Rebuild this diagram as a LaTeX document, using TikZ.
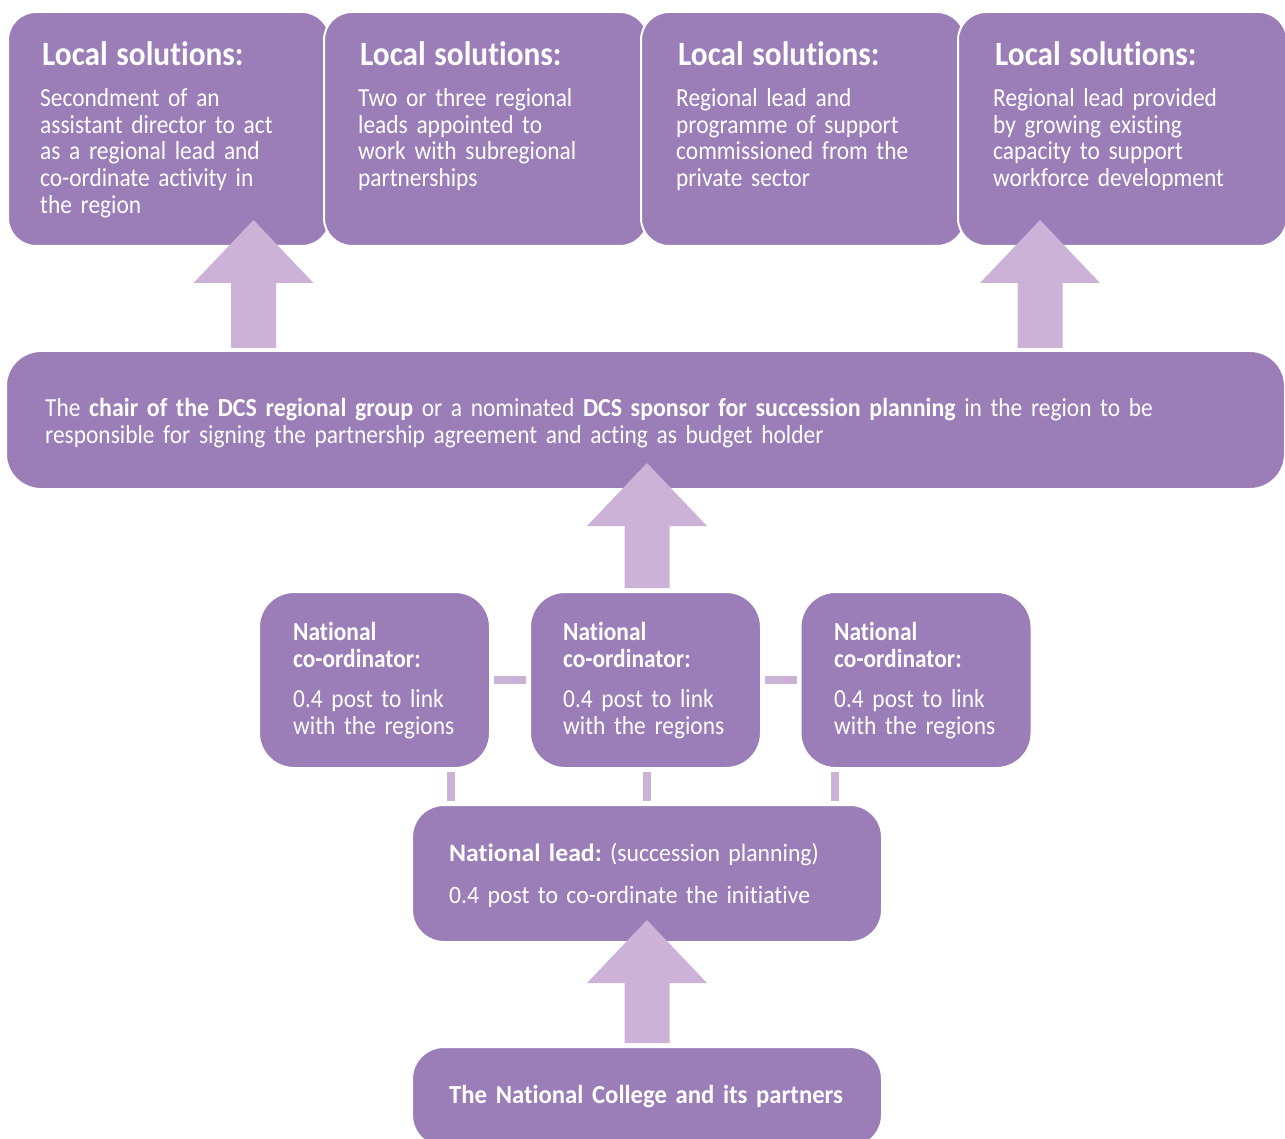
\documentclass[tikz,border=0pt]{standalone}
\usepackage{fontspec}
\setmainfont{Carlito}[Ligatures=NoCommon]
\newfontfamily\condf[FakeStretch=0.90,Ligatures=NoCommon,WordSpace=0.85]{Carlito}
\newfontfamily\titlef[FakeStretch=0.92,Ligatures=NoCommon]{Carlito}
\newfontfamily\normf[FakeStretch=0.95,Ligatures=NoCommon]{Carlito}
\newfontfamily\wboldf[FakeStretch=1.03,Ligatures=NoCommon]{Carlito}
\usetikzlibrary{calc}
\definecolor{boxc}{RGB}{155,125,184}
\definecolor{arrc}{RGB}{204,178,214}
\tikzset{
  box/.style={fill=boxc, draw=white, line width=2pt, inner sep=0pt},
  txt/.style={text=white, align=left, inner sep=0pt, anchor=north west, text width=#1,
              font=\condf\fontsize{26}{26.7}\selectfont},
  bar/.style={draw=arrc, line width=8pt},
  uparrow/.style={to path={let \p1=(\tikztostart), \p2=(\tikztotarget) in
     (\x1-22.5pt,\y1) -- (\x1-22.5pt,\y2-63pt) -- (\x1-60pt,\y2-63pt) -- (\x1,\y2)
     -- (\x1+60pt,\y2-63pt) -- (\x1+22.5pt,\y2-63pt) -- (\x1+22.5pt,\y1) -- cycle}},
  blk/.style={fill=arrc, draw=none}
}
\newcommand{\ttlfont}{\titlef\bfseries\fontsize{34}{34}\selectfont}
\begin{document}
\frenchspacing
\begin{tikzpicture}[x=1pt,y=-1pt]
\useasboundingbox (0,0) rectangle (1285,1139);
% top boxes
\node[box, rounded corners=28pt, minimum width=322, minimum height=234] (l1) at (169,129) {};
\node[box, rounded corners=28pt, minimum width=324, minimum height=234] (l2) at (486,129) {};
\node[box, rounded corners=28pt, minimum width=324, minimum height=234] (l3) at (803,129) {};
\node[box, rounded corners=28pt, minimum width=329, minimum height=234] (l4) at (1122.5,129) {};
% big box
\node[box, rounded corners=35pt, minimum width=1279, minimum height=138] (big) at (645.5,420) {};
% coordinators
\node[box, rounded corners=35pt, minimum width=231, minimum height=176] (c1) at (374.5,680) {};
\node[box, rounded corners=35pt, minimum width=231, minimum height=176] (c2) at (645.5,680) {};
\node[box, rounded corners=35pt, minimum width=231, minimum height=176] (c3) at (916,680) {};
% national lead and college
\node[box, rounded corners=32pt, minimum width=470, minimum height=137] (lead) at (647,873.5) {};
\node[box, rounded corners=32pt, minimum width=470, minimum height=100] (nc) at (647,1097) {};

% block arrows
\coordinate (a1s) at (253.5,348); \coordinate (a1t) at (253.5,220);
\coordinate (a2s) at (1040,348);  \coordinate (a2t) at (1040,220);
\coordinate (a3s) at (647,588);   \coordinate (a3t) at (647,463);
\coordinate (a4s) at (647,1043);  \coordinate (a4t) at (647,920);
\path[blk] (a1s) to[uparrow] (a1t);
\path[blk] (a2s) to[uparrow] (a2t);
\path[blk] (a3s) to[uparrow] (a3t);
\path[blk] (a4s) to[uparrow] (a4t);

% bars
\draw[bar, shorten <=3pt, shorten >=3pt] (c1.east) -- (c2.west);
\draw[bar, shorten <=3pt, shorten >=3pt] (c2.east) -- (c3.west);
\coordinate (v1) at (451,0); \coordinate (v3) at (835,0);
\draw[bar, shorten <=3pt, shorten >=3pt] (c1.south -| v1) -- (lead.north -| v1);
\draw[bar, shorten <=3pt, shorten >=3pt] (c2.south -| lead.north) -- (lead.north);
\draw[bar, shorten <=3pt, shorten >=3pt] (c3.south -| v3) -- (lead.north -| v3);

% texts
\node[txt=300pt] (t1) at (40,41) {\hspace*{2pt}{\ttlfont Local solutions:}\\[14.8pt]Secondment of an\\assistant director to act\\as a regional lead and\\co-ordinate activity in\\the region};
\node[txt=300pt] (t2) at (358,41) {\hspace*{2pt}{\ttlfont Local solutions:}\\[14.8pt]Two or three regional\\leads appointed to\\work with subregional\\partnerships};
\node[txt=300pt] (t3) at (676,41) {\hspace*{2pt}{\ttlfont Local solutions:}\\[14.8pt]Regional lead and\\programme of support\\commissioned from the\\private sector};
\node[txt=300pt] (t4) at (993,41) {\hspace*{2pt}{\ttlfont Local solutions:}\\[14.8pt]Regional lead provided\\by growing existing\\capacity to support\\workforce development};

\node[txt=1230pt, font=\condf\fontsize{26}{27}\selectfont] (tb) at (45,398) {The {\titlef\bfseries chair of the DCS regional group} or a nominated {\titlef\bfseries DCS sponsor for succession planning} in the region to be\\responsible for signing the partnership agreement and acting as budget holder};

\node[txt=200pt] (tc1) at (293,622) {\textbf{National}\\\textbf{co-ordinator:}\\[14pt]0.4 post to link\\with the regions};
\node[txt=200pt] (tc2) at (563,622) {\textbf{National}\\\textbf{co-ordinator:}\\[14pt]0.4 post to link\\with the regions};
\node[txt=200pt] (tc3) at (834,622) {\textbf{National}\\\textbf{co-ordinator:}\\[14pt]0.4 post to link\\with the regions};

\node[txt=420pt, font=\normf\fontsize{25}{27}\selectfont] (tl) at (449,843) {{\wboldf\bfseries National lead:} (succession planning)\\[15pt]0.4 post to co-ordinate the initiative};
\node[txt=420pt, font=\normf\bfseries\fontsize{26}{27}\selectfont] (tn) at (449,1085) {The National College and its partners};
\end{tikzpicture}
\end{document}
